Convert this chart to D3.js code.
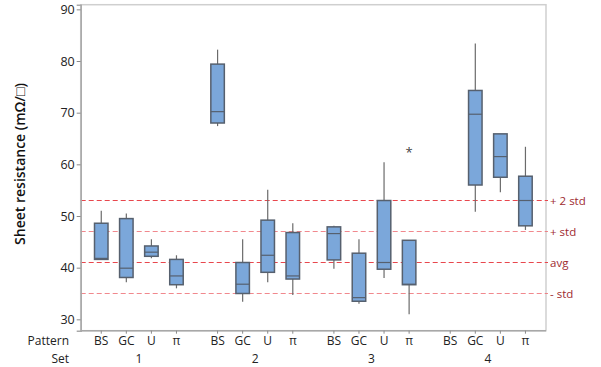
<!DOCTYPE html>
<html>
<head>
<meta charset="utf-8">
<script src="https://cdn.jsdelivr.net/npm/d3@7/dist/d3.min.js"></script>
<style>
  html, body { margin: 0; padding: 0; background: #fff; }
  svg { display: block; }
  text { font-family: "Open Sans", "Noto Sans", sans-serif; }
</style>
</head>
<body>
<div id="chart"></div>
<script>
// Sheet resistance box plots grouped by set and pattern
const sets = ["1", "2", "3", "4"];
const patterns = ["BS", "GC", "U", "π"];

// One entry per (set, pattern), set-major order; null = no measurement
const whiskerLow  = [41.6, 37.2, 41.8, 36.0,  67.4, 33.4, 37.2, 34.7,  39.8, 33.0, 38.0, 31.0,  null, 50.8, 54.6, 47.3];
const q1Values    = [41.6, 38.1, 42.2, 36.7,  68.0, 35.0, 39.1, 37.8,  41.5, 33.5, 39.7, 36.7,  null, 56.0, 57.5, 48.1];
const medians     = [41.8, 39.9, 43.0, 38.4,  70.2, 36.8, 42.4, 38.4,  46.6, 34.2, 41.0, 36.8,  null, 69.7, 61.5, 53.0];
const q3Values    = [48.6, 49.5, 44.2, 41.6,  79.4, 41.0, 49.2, 46.8,  47.9, 42.8, 53.0, 45.3,  null, 74.3, 65.9, 57.7];
const whiskerHigh = [51.0, 50.5, 45.5, 42.4,  82.2, 45.5, 55.1, 48.6,  48.1, 45.5, 60.4, 45.3,  null, 83.4, 65.9, 63.4];

const outlierSets = ["3"];
const outlierPatterns = ["π"];
const outlierValues = [62.9];

const yTicks = [30, 40, 50, 60, 70, 80, 90];
const refLabels = ["+ 2 std", "+ std", "avg", "- std"];
const refValues = [53, 47, 41, 35];
const refStrong = [true, false, true, false];

const W = 601, H = 367;
const plot = { left: 80.7, right: 546, top: 4.7, bottom: 330.7 };

const svg = d3.select("#chart").append("svg")
  .attr("width", W).attr("height", H);

const y = d3.scaleLinear().domain([27.8, 90.9]).range([plot.bottom, plot.top]);
const xSet = d3.scaleBand().domain(sets).range([plot.left, plot.right]).padding(0);
const xPat = d3.scalePoint().domain(patterns).range([0, xSet.bandwidth()]).padding(0.82);
const xPos = (s, p) => xSet(s) + xPat(p);

// frame
svg.append("rect")
  .attr("x", plot.left).attr("y", plot.top)
  .attr("width", plot.right - plot.left).attr("height", plot.bottom - plot.top)
  .attr("fill", "none").attr("stroke", "#cfcfcf").attr("stroke-width", 1.5);

// reference lines
refValues.forEach((v, i) => {
  svg.append("line")
    .attr("x1", plot.left).attr("x2", plot.right + 2)
    .attr("y1", y(v)).attr("y2", y(v))
    .attr("stroke", refStrong[i] ? "#e8474d" : "#ee6a70")
    .attr("stroke-opacity", refStrong[i] ? 1 : 0.8)
    .attr("stroke-width", 1.2)
    .attr("stroke-dasharray", "5,3");
  svg.append("text")
    .attr("x", plot.right + 4).attr("y", y(v))
    .attr("dy", "0.35em")
    .attr("font-size", 11.5)
    .attr("fill", "#9e2a30")
    .text(refLabels[i]);
});

// boxes
const boxW = 13.5;
const rows = [];
sets.forEach((s, si) => patterns.forEach((p, pi) => {
  const k = si * patterns.length + pi;
  if (medians[k] == null) return;
  rows.push({ s, p, lo: whiskerLow[k], q1: q1Values[k], med: medians[k], q3: q3Values[k], hi: whiskerHigh[k] });
}));

const g = svg.append("g");
rows.forEach(d => {
  const cx = xPos(d.s, d.p);
  g.append("line").attr("x1", cx).attr("x2", cx)
    .attr("y1", y(d.q3)).attr("y2", y(d.hi))
    .attr("stroke", "#6b6b6b").attr("stroke-width", 1.2);
  g.append("line").attr("x1", cx).attr("x2", cx)
    .attr("y1", y(d.q1)).attr("y2", y(d.lo))
    .attr("stroke", "#6b6b6b").attr("stroke-width", 1.2);
  g.append("rect")
    .attr("x", cx - boxW / 2).attr("y", y(d.q3))
    .attr("width", boxW).attr("height", Math.max(0.5, y(d.q1) - y(d.q3)))
    .attr("fill", "#7ba7da").attr("stroke", "#56606e").attr("stroke-width", 1.5);
  g.append("line").attr("x1", cx - boxW / 2).attr("x2", cx + boxW / 2)
    .attr("y1", y(d.med)).attr("y2", y(d.med))
    .attr("stroke", "#56606e").attr("stroke-width", 1.2);
});

// outliers
outlierValues.forEach((v, i) => {
  svg.append("text")
    .attr("x", xPos(outlierSets[i], outlierPatterns[i]))
    .attr("y", y(v))
    .attr("dy", "0.6em")
    .attr("text-anchor", "middle")
    .attr("font-size", 13)
    .attr("fill", "#444")
    .text("*");
});

// y axis
const yAxis = svg.append("g")
  .attr("transform", `translate(${plot.left},0)`)
  .call(d3.axisLeft(y).tickValues(yTicks).tickSize(4).tickPadding(2));
yAxis.select(".domain").attr("stroke", "#a8a8a8").attr("stroke-width", 1.5);
yAxis.selectAll(".tick line").attr("stroke", "#8a8a8a");
yAxis.selectAll(".tick text").attr("font-size", 12.5).attr("fill", "#222")
  .attr("font-family", "\"Open Sans\", sans-serif");

// x axis: pattern ticks
const xg = svg.append("g");
xg.append("line").attr("x1", plot.left).attr("x2", plot.right)
  .attr("y1", plot.bottom).attr("y2", plot.bottom)
  .attr("stroke", "#a8a8a8").attr("stroke-width", 1.5);
sets.forEach(s => patterns.forEach(p => {
  const cx = xPos(s, p);
  xg.append("line").attr("x1", cx).attr("x2", cx)
    .attr("y1", plot.bottom).attr("y2", plot.bottom + 3)
    .attr("stroke", "#8a8a8a");
  xg.append("text").attr("x", cx).attr("y", 345)
    .attr("text-anchor", "middle").attr("font-size", 12).attr("fill", "#222")
    .text(p);
}));
sets.forEach(s => {
  xg.append("text").attr("x", xSet(s) + (xPat("GC") + xPat("U")) / 2).attr("y", 363)
    .attr("text-anchor", "middle").attr("font-size", 12).attr("fill", "#222")
    .text(s);
});
xg.append("text").attr("x", 69).attr("y", 345).attr("text-anchor", "end")
  .attr("font-size", 12).attr("fill", "#222").text("Pattern");
xg.append("text").attr("x", 69).attr("y", 363).attr("text-anchor", "end")
  .attr("font-size", 12).attr("fill", "#222").text("Set");

// y axis title
svg.append("text")
  .attr("transform", `translate(25,164) rotate(-90)`)
  .attr("text-anchor", "middle")
  .attr("font-size", 14).attr("font-weight", 600).attr("fill", "#111")
  .text("Sheet resistance (mΩ/□)");
</script>
</body>
</html>
